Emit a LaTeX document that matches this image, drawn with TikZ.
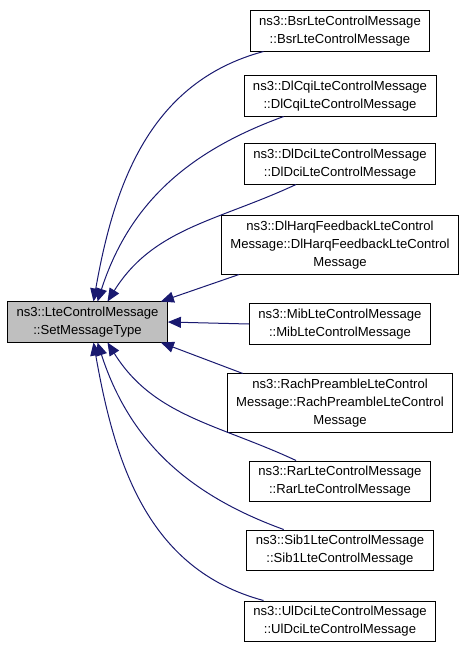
\documentclass[tikz,border=0pt]{standalone}
\usepackage{fontspec}
\setmainfont{Liberation Sans}
\usetikzlibrary{arrows.meta}
\definecolor{edgeblue}{HTML}{191970}
\definecolor{boxgray}{HTML}{BFBFBF}
\begin{document}
\begin{tikzpicture}[x=1pt,y=-1pt,
    cls/.style={shape=rectangle,draw=black,line width=0.8pt,align=center,inner xsep=9pt,inner ysep=5pt,font=\fontsize{13.1}{18}\selectfont},
    caller/.style={cls,fill=boxgray},
    callarrow/.style={draw=edgeblue,line width=1pt,-{Triangle[length=13pt,width=11pt]}}]
        \useasboundingbox (0,0) rectangle (467,648);
        \node[caller] (MSG)   at (87.5,322) {ns3::LteControlMessage\\::SetMessageType};
        \node[cls] (BSR)   at (340,31)  {ns3::BsrLteControlMessage\\::BsrLteControlMessage};
        \node[cls] (DLCQI) at (340,96)  {ns3::DlCqiLteControlMessage\\::DlCqiLteControlMessage};
        \node[cls] (DLDCI) at (340,164) {ns3::DlDciLteControlMessage\\::DlDciLteControlMessage};
        \node[cls] (HARQ)  at (340,245) {ns3::DlHarqFeedbackLteControl\\Message::DlHarqFeedbackLteControl\\Message};
        \node[cls] (MIB)   at (340,324) {ns3::MibLteControlMessage\\::MibLteControlMessage};
        \node[cls] (RACH)  at (340,403) {ns3::RachPreambleLteControl\\Message::RachPreambleLteControl\\Message};
        \node[cls] (RAR)   at (340,481) {ns3::RarLteControlMessage\\::RarLteControlMessage};
        \node[cls] (SIB)   at (340,550) {ns3::Sib1LteControlMessage\\::Sib1LteControlMessage};
        \node[cls] (ULDCI) at (340,621) {ns3::UlDciLteControlMessage\\::UlDciLteControlMessage};

        \draw [callarrow] (BSR)   to[out=195,in=80]  ([xshift=6pt]MSG.north);
        \draw [callarrow] (DLCQI) to[out=200,in=72]  ([xshift=10pt]MSG.north);
        \draw [callarrow] (DLDCI) to[out=205,in=58]  ([xshift=20pt]MSG.north);
        \draw [callarrow] ([xshift=18pt]HARQ.south west) -- ([xshift=-7pt]MSG.north east);
        \draw [callarrow] (MIB.west) -- (MSG.east);
        \draw [callarrow] ([xshift=16pt]RACH.north west) -- ([xshift=-7pt]MSG.south east);
        \draw [callarrow] (RAR)   to[out=155,in=-58] ([xshift=20pt]MSG.south);
        \draw [callarrow] (SIB)   to[out=160,in=-72] ([xshift=10pt]MSG.south);
        \draw [callarrow] (ULDCI) to[out=165,in=-80] ([xshift=6pt]MSG.south);
\end{tikzpicture}
\end{document}
